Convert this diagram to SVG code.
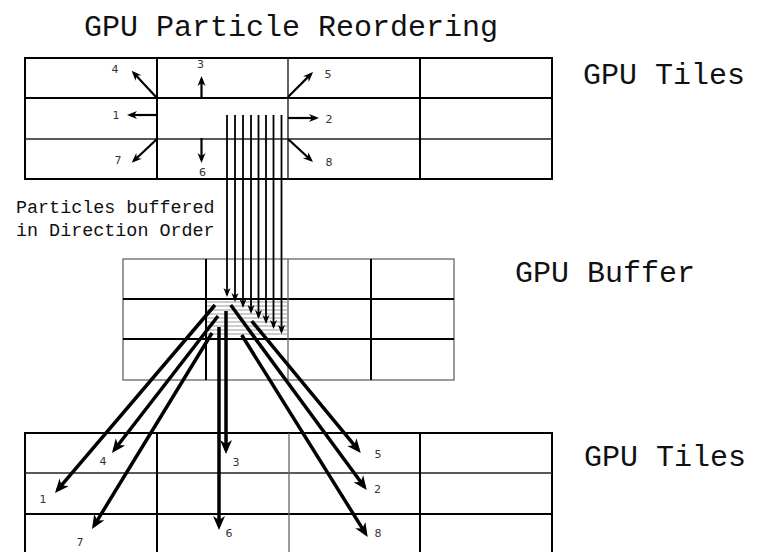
<svg xmlns="http://www.w3.org/2000/svg" width="763" height="552" viewBox="0 0 763 552">
<style>
.title{font-family:"Liberation Mono","Courier New",monospace;font-size:30px;fill:#111}
.note{font-family:"Liberation Mono","Courier New",monospace;font-size:18.4px;fill:#111}
.num{font-family:"DejaVu Sans",sans-serif;font-size:11px;fill:#333;text-anchor:middle}
.snum{font-family:"DejaVu Sans",sans-serif;font-size:8.5px;fill:#333;text-anchor:middle}
.thick{stroke:#000;stroke-width:2;fill:none}
.thin{stroke:#222;stroke-width:1.4;fill:none}
.gray{stroke:#666;stroke-width:1.3;fill:none}
.stripe{stroke:#999;stroke-width:1;fill:none}
.aS{stroke:#000;stroke-width:1.8;fill:none;marker-end:url(#ahS)}
.aM{stroke:#000;stroke-width:2.2;fill:none;marker-end:url(#ahM)}
.aL{stroke:#000;stroke-width:3.5;fill:none;marker-end:url(#ahL)}
</style>
<defs>
<marker id="ahS" markerUnits="userSpaceOnUse" markerWidth="9" markerHeight="7" refX="7" refY="3.5" orient="auto" overflow="visible"><path d="M0,0 L9,3.5 L0,7 L2.5,3.5 Z" fill="#000"/></marker>
<marker id="ahM" markerUnits="userSpaceOnUse" markerWidth="10" markerHeight="8" refX="7" refY="4" orient="auto" overflow="visible"><path d="M0,0 L10,4 L0,8 L3,4 Z" fill="#000"/></marker>
<marker id="ahL" markerUnits="userSpaceOnUse" markerWidth="14" markerHeight="12" refX="10" refY="6" orient="auto" overflow="visible"><path d="M0,0 L14,6 L0,12 L4,6 Z" fill="#000"/></marker>
</defs>
<rect width="763" height="552" fill="#fff"/>
<g id="title">
<text class="title" x="84" y="36">GPU Particle Reordering</text>
</g>

<g id="top-tiles">
<rect class="thick" x="25" y="58" width="527" height="121"/>
<line class="thick" x1="25" y1="98" x2="552" y2="98"/>
<line class="thin" x1="25" y1="139" x2="552" y2="139"/>
<line class="thick" x1="157" y1="58" x2="157" y2="179"/>
<line class="thin" x1="288" y1="58" x2="288" y2="179"/>
<line class="thick" x1="420" y1="58" x2="420" y2="179"/>
<text class="title" x="583" y="84">GPU Tiles</text>
</g>

<g id="direction-labels">
<text class="num" x="115" y="73">4</text>
<text class="num" x="200.5" y="68">3</text>
<text class="num" x="328" y="78">5</text>
<text class="num" x="116" y="119">1</text>
<text class="num" x="329" y="123">2</text>
<text class="num" x="118" y="164">7</text>
<text class="num" x="202.5" y="176">6</text>
<text class="num" x="329" y="166">8</text>
<text class="snum" x="226 234.7 242.7 251 258.5 266 273.5 281">12345678</text>
</g>

<g id="note">
<text class="note" x="16" y="213">Particles buffered</text>
<text class="note" x="16" y="236">in Direction Order</text>
</g>

<g id="gpu-buffer">
<rect class="gray" x="123" y="259" width="331" height="121"/>
<line class="thick" x1="123" y1="299" x2="454" y2="299"/>
<line class="thick" x1="123" y1="339" x2="454" y2="339"/>
<line class="thick" x1="206" y1="259" x2="206" y2="380"/>
<line class="gray" x1="288" y1="259" x2="288" y2="380"/>
<line class="thick" x1="371" y1="259" x2="371" y2="380"/>
<g>
<line class="stripe" x1="207" y1="302" x2="287" y2="302"/>
<line class="stripe" x1="207" y1="306" x2="287" y2="306"/>
<line class="stripe" x1="207" y1="310" x2="287" y2="310"/>
<line class="stripe" x1="207" y1="314" x2="287" y2="314"/>
<line class="stripe" x1="207" y1="318" x2="287" y2="318"/>
<line class="stripe" x1="207" y1="322" x2="287" y2="322"/>
<line class="stripe" x1="207" y1="326" x2="287" y2="326"/>
<line class="stripe" x1="207" y1="330" x2="287" y2="330"/>
<line class="stripe" x1="207" y1="334" x2="287" y2="334"/>
</g>
<text class="title" x="515" y="282">GPU Buffer</text>
</g>

<g id="bottom-tiles">
<rect class="thick" x="25" y="433" width="527" height="124"/>
<line class="thin" x1="25" y1="473" x2="552" y2="473"/>
<line class="thick" x1="25" y1="514" x2="552" y2="514"/>
<line class="thick" x1="157" y1="433" x2="157" y2="552"/>
<line class="gray" x1="289" y1="433" x2="289" y2="552"/>
<line class="thick" x1="420" y1="433" x2="420" y2="552"/>
<text class="title" x="584" y="466">GPU Tiles</text>
<text class="num" x="103" y="465">4</text>
<text class="num" x="43" y="503">1</text>
<text class="num" x="80" y="546">7</text>
<text class="num" x="236" y="466">3</text>
<text class="num" x="229" y="537">6</text>
<text class="num" x="378" y="458">5</text>
<text class="num" x="377.5" y="493">2</text>
<text class="num" x="378" y="537">8</text>
</g>

<g id="connectors">
<line class="aM" x1="157" y1="98" x2="133.7" y2="72.9"/>
<line class="aM" x1="201.5" y1="98" x2="201.5" y2="79"/>
<line class="aM" x1="288" y1="97" x2="310.9" y2="74.1"/>
<line class="aM" x1="157" y1="115" x2="130" y2="115"/>
<line class="aM" x1="288" y1="118" x2="316" y2="118"/>
<line class="aM" x1="157" y1="139" x2="133.9" y2="160.7"/>
<line class="aM" x1="201.5" y1="138" x2="201.5" y2="160"/>
<line class="aM" x1="288" y1="139" x2="310.8" y2="160"/>

<line class="aS" x1="227" y1="115" x2="227" y2="295"/>
<line class="aS" x1="235" y1="115" x2="235" y2="300"/>
<line class="aS" x1="243" y1="115" x2="243" y2="306"/>
<line class="aS" x1="251" y1="115" x2="251" y2="312"/>
<line class="aS" x1="258.5" y1="115" x2="258.5" y2="317"/>
<line class="aS" x1="266" y1="115" x2="266" y2="322"/>
<line class="aS" x1="273.5" y1="115" x2="273.5" y2="327"/>
<line class="aS" x1="281.5" y1="115" x2="281.5" y2="332"/>

<line class="aL" x1="215" y1="305" x2="57.6" y2="489.9"/>
<line class="aL" x1="218" y1="316" x2="114.4" y2="449.8"/>
<line class="aL" x1="212" y1="333" x2="94.1" y2="525.6"/>
<line class="aL" x1="226" y1="311" x2="226" y2="450"/>
<line class="aL" x1="219" y1="327" x2="219" y2="526"/>
<line class="aL" x1="251.7" y1="321" x2="358.2" y2="449.9"/>
<line class="aL" x1="230.7" y1="305" x2="364.3" y2="486.8"/>
<line class="aL" x1="241.7" y1="335" x2="365.6" y2="533.6"/>
</g>
</svg>
